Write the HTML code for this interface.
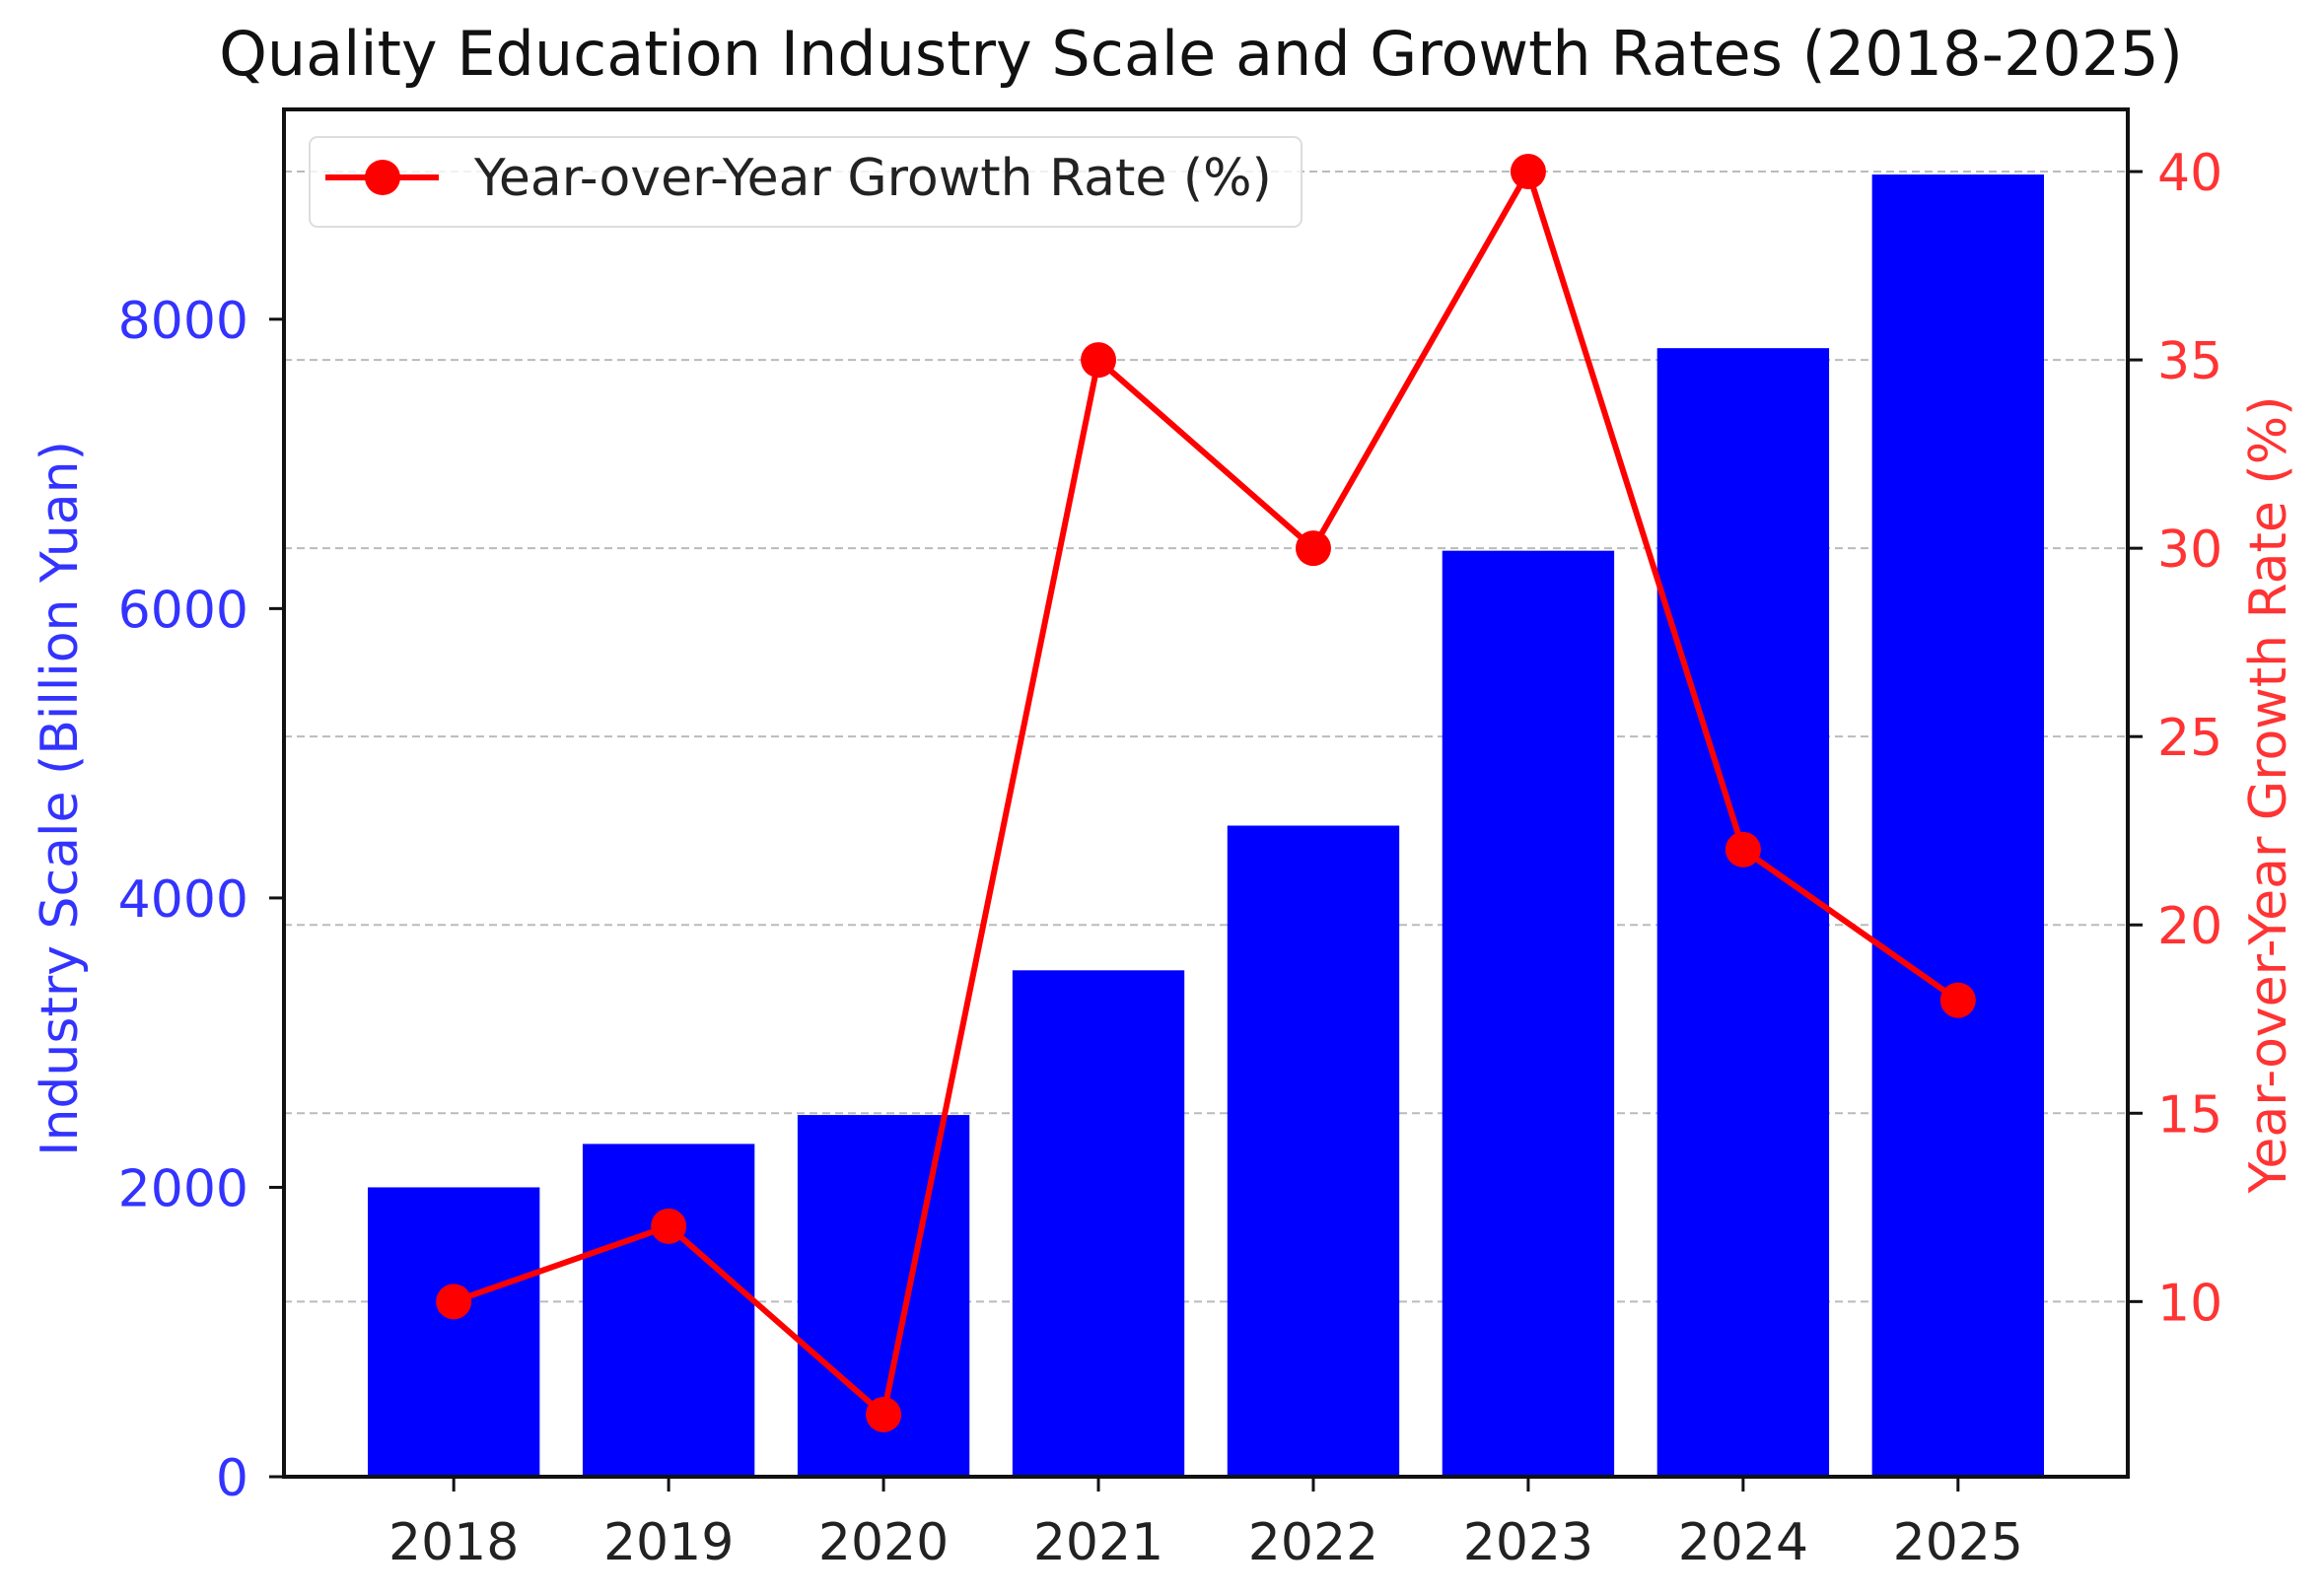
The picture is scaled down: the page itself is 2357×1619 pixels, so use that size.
<!DOCTYPE html>
<html><head><meta charset="utf-8"><style>
html,body{margin:0;padding:0;background:#fff;}
svg{display:block;font-family:"DejaVu Sans","Liberation Sans",sans-serif;}
</style></head><body>
<svg id="chart" width="2357" height="1619" viewBox="0 0 2357 1619">
<text x="1218" y="76" text-anchor="middle" font-size="62" fill="#111">Quality Education Industry Scale and Growth Rates (2018-2025)</text>
<g id="grid"></g><g id="bars"></g><g id="line"></g><g id="axes"></g>
<text transform="translate(78,810) rotate(-90)" text-anchor="middle" font-size="52" fill="#3333ff">Industry Scale (Billion Yuan)</text>
<text transform="translate(2318,806) rotate(-90)" text-anchor="middle" font-size="52" fill="#ff3333">Year-over-Year Growth Rate (%)</text>
<g>
<rect x="314" y="139" width="1006" height="91" rx="8" fill="#fff" fill-opacity="0.8" stroke="#ddd" stroke-width="2"/>
<line x1="330" y1="180" x2="445" y2="180" stroke="#f00" stroke-width="6"/>
<circle cx="388" cy="180" r="18" fill="#f00"/>
<text x="481" y="198" font-size="52" fill="#222">Year-over-Year Growth Rate (%)</text>
</g>
</svg>
<script>
const categories = ["2018","2019","2020","2021","2022","2023","2024","2025"];
const scaleValues = [2000,2300,2500,3500,4500,6400,7800,9000];
const growthValues = [10,12,7,35,30,40,22,18];
const leftTicks = [0,2000,4000,6000,8000];
const rightTicks = [10,15,20,25,30,35,40];

const NS="http://www.w3.org/2000/svg";
const L=288,R=2158,T=111,B=1498;
const xMin=-0.79,xMax=7.79;
const yMax=Math.max(...scaleValues)*1.05;
const gMin=Math.min(...growthValues),gMax=Math.max(...growthValues),gPad=(gMax-gMin)*0.05;
const g0=gMin-gPad,g1=gMax+gPad;
const xs=i=>L+(i-xMin)/(xMax-xMin)*(R-L);
const yl=v=>B-v/yMax*(B-T);
const yr=v=>B-(v-g0)/(g1-g0)*(B-T);
function mk(tag,attrs,parent){const e=document.createElementNS(NS,tag);for(const k in attrs)e.setAttribute(k,attrs[k]);parent.appendChild(e);return e;}
const grid=document.getElementById('grid'),bars=document.getElementById('bars'),line=document.getElementById('line'),axes=document.getElementById('axes');
rightTicks.forEach(t=>{
  const e=mk('line',{x1:L,x2:R,y1:yr(t),y2:yr(t),stroke:'#bbb','stroke-width':2,'stroke-dasharray':'8 5'},grid);
  
  
});
const bw=(xs(1)-xs(0))*0.8;
scaleValues.forEach((v,i)=>{
  const e=mk('rect',{x:xs(i)-bw/2,y:yl(v),width:bw,height:B-yl(v),fill:'#0000ff'},bars);
  
  
});
const pl=mk('polyline',{points:growthValues.map((v,i)=>xs(i)+','+yr(v)).join(' '),fill:'none',stroke:'#ff0000','stroke-width':6,'stroke-linejoin':'round'},line);


growthValues.forEach((v,i)=>{
  const c=mk('circle',{cx:xs(i),cy:yr(v),r:18,fill:'#ff0000'},line);
  
  
});
const fr=mk('rect',{x:L,y:T,width:R-L,height:B-T,fill:'none',stroke:'#111','stroke-width':4},axes);


leftTicks.forEach(t=>{
  mk('line',{x1:L-15,x2:L,y1:yl(t),y2:yl(t),stroke:'#111','stroke-width':3},axes);
  const tx=mk('text',{x:L-36,y:yl(t)+19,'text-anchor':'end','font-size':52,fill:'#3333ff'},axes);
  tx.textContent=t;
  
  
});
rightTicks.forEach(t=>{
  mk('line',{x1:R,x2:R+15,y1:yr(t),y2:yr(t),stroke:'#111','stroke-width':3},axes);
  const tx=mk('text',{x:R+30,y:yr(t)+19,'font-size':52,fill:'#ff3333'},axes);
  tx.textContent=t;
  
  
});
categories.forEach((c,i)=>{
  mk('line',{x1:xs(i),x2:xs(i),y1:B,y2:B+15,stroke:'#111','stroke-width':3},axes);
  const tx=mk('text',{x:xs(i),y:1582,'text-anchor':'middle','font-size':52,fill:'#222'},axes);
  tx.textContent=c;
  
  
});
</script>
</body></html>
